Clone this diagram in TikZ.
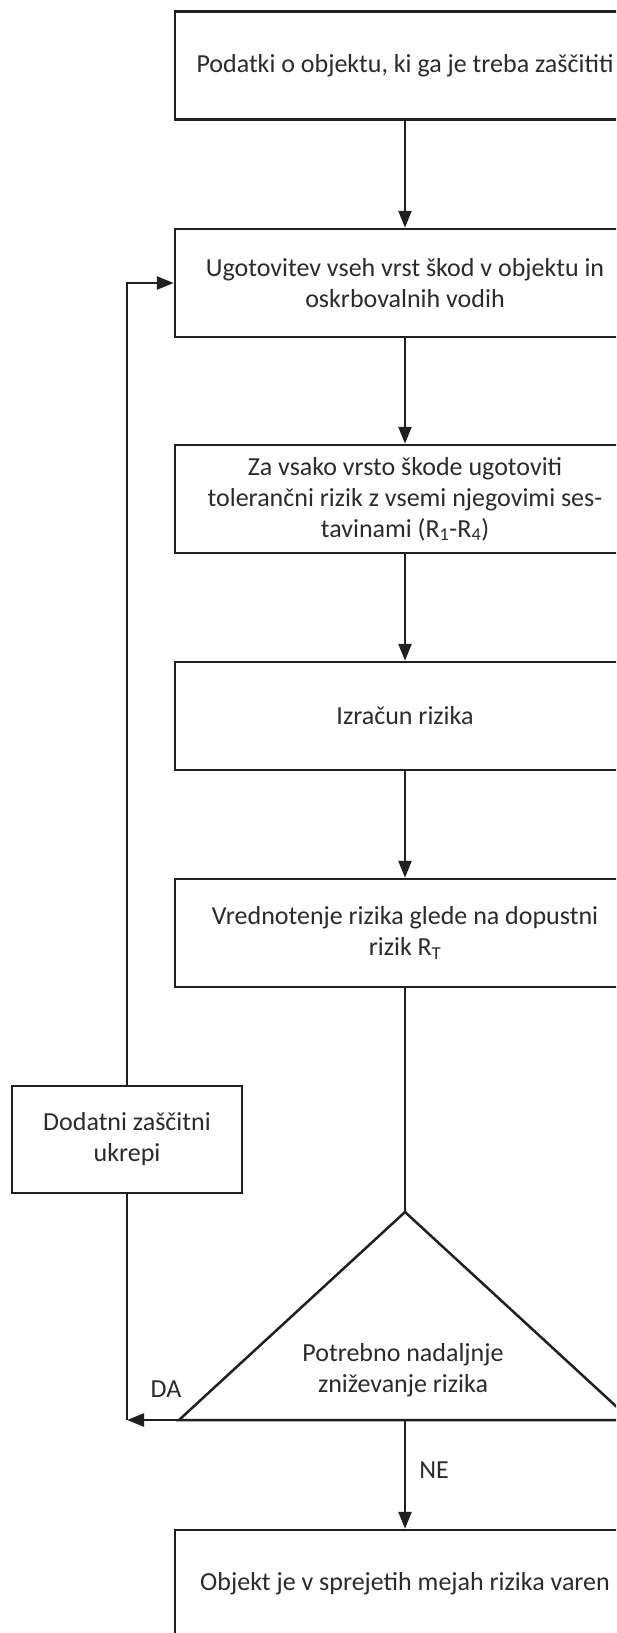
\documentclass[tikz,border=0pt]{standalone}
\usepackage{fontspec}
\setmainfont{Carlito}
\usetikzlibrary{arrows.meta}
\definecolor{ink}{HTML}{231F20}
\definecolor{txtc}{HTML}{2B2B2B}
\begin{document}
\begin{tikzpicture}[x=1pt,y=-1pt,
  line/.style={draw=ink, line width=2.5pt, line join=miter},
  arr/.style={line, -{Triangle[length=17pt,width=13pt]}},
  box/.style={draw=ink, line width=2.5pt, minimum width=460pt, minimum height=108pt,
    align=center, inner sep=0pt, text=txtc, font=\fontsize{26}{31}\selectfont},
  plain/.style={align=center, inner sep=0pt, text=txtc, font=\fontsize{26}{31}\selectfont}]
\useasboundingbox (0,0) rectangle (616,1633);
\fill[white] (0,0) rectangle (616,1633);
\clip (0,0) rectangle (616,1633);
\node[box] (b1) at (405,65.5) {Podatki o objektu, ki ga je treba zaščititi};
\node[box] (b2) at (405,283) {Ugotovitev vseh vrst škod v objektu in\\oskrbovalnih vodih};
\node[box] (b3) at (405,499) {Za vsako vrsto škode ugotoviti\\tolerančni rizik z vsemi njegovimi ses-\\tavinami (R\textsubscript{1}-R\textsubscript{4})};
\node[box] (b4) at (405,716) {Izračun rizika};
\node[box] (b5) at (405,933) {Vrednotenje rizika glede na dopustni\\rizik R\textsubscript{T}};
\node[box, minimum width=230pt, minimum height=107pt] (dod) at (127,1139.5) {Dodatni zaščitni\\ukrepi};
\coordinate (apex) at (405,1212);
\coordinate (tl) at (179,1420);
\coordinate (tr) at (631,1420);
\coordinate (bm) at (405,1420);
\coordinate (corner) at (127,1420);
\draw[line] (apex) -- (tl) -- (tr) -- cycle;
\node[plain] (q) at (403,1370) {Potrebno nadaljnje\\zniževanje rizika};
\node[box] (b6) at (405,1584) {Objekt je v sprejetih mejah rizika varen};
\draw[arr] (b1) -- (b2);
\draw[arr] (b2) -- (b3);
\draw[arr] (b3) -- (b4);
\draw[arr] (b4) -- (b5);
\draw[line] (b5) -- (apex);
\draw[arr] (tl) -- (corner);
\draw[line] (corner) -- (dod.south);
\draw[arr] (dod.north) |- (b2.west);
\draw[arr] (bm) -- (b6);
\node[plain] (da) at (166,1389) {DA};
\node[plain] (ne) at (434,1470) {NE};
\end{tikzpicture}
\end{document}
